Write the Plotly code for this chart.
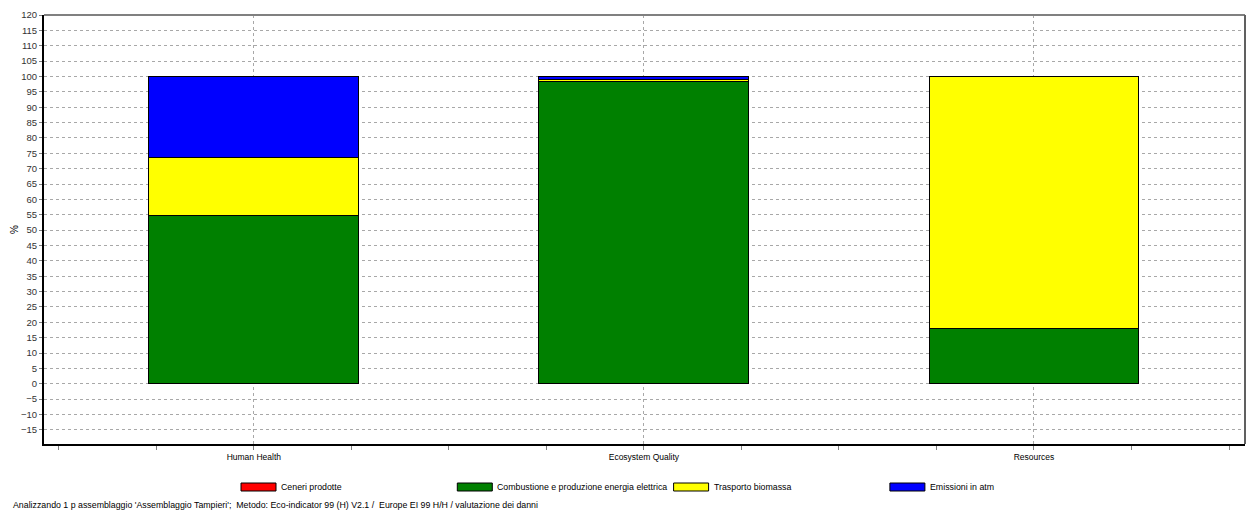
import plotly.graph_objects as go

categories = ["Human Health", "Ecosystem Quality", "Resources"]
series_names = [
    "Ceneri prodotte",
    "Combustione e produzione energia elettrica",
    "Trasporto biomassa",
    "Emissioni in atm",
]
ceneri = [0.2, 0.1, 0.05]
combustione = [54.6, 98.3, 17.9]
trasporto = [18.7, 0.5, 81.95]
emissioni = [26.5, 1.1, 0.1]
series_values = [ceneri, combustione, trasporto, emissioni]
series_colors = ["#ff0000", "#008000", "#ffff00", "#0000ff"]
y_ticks = list(range(-15, 125, 5))
footer = ("Analizzando 1 p assemblaggio 'Assemblaggio Tampieri';  Metodo: Eco-indicator 99 (H) V2.1 /  "
          "Europe EI 99 H/H / valutazione dei danni")

FONT = "Liberation Sans, Arial, sans-serif"
xpos = list(range(len(categories)))

fig = go.Figure()
for name, vals, col in zip(series_names, series_values, series_colors):
    fig.add_trace(go.Bar(
        x=xpos, y=vals, name=name, width=0.538,
        marker=dict(color=col, line=dict(color="#000000", width=1)),
        showlegend=False,
    ))

fig.update_layout(
    barmode="stack",
    width=1250, height=510,
    margin=dict(l=44, r=5, t=15, b=66),
    plot_bgcolor="#ffffff", paper_bgcolor="#ffffff",
    font=dict(family=FONT, size=9, color="#000000"),
    xaxis=dict(
        range=[-0.538, 2.541],
        tickvals=xpos, ticktext=categories,
        showgrid=True, gridcolor="#a8a8a8", griddash="3px,3px", gridwidth=1,
        ticks="outside", ticklen=4, tickcolor="#808080",
        minor=dict(dtick=0.25, tick0=-0.5, ticks="outside", ticklen=4, tickcolor="#808080", showgrid=False),
        showline=True, linecolor="#000000", linewidth=2,
        zeroline=False, tickfont=dict(size=8.5),
    ),
    yaxis=dict(
        range=[-19.6, 120],
        tickvals=y_ticks,
        showgrid=True, gridcolor="#a8a8a8", griddash="3px,3px", gridwidth=1,
        ticks="outside", ticklen=3, tickcolor="#808080",
        showline=True, linecolor="#000000", linewidth=2,
        zeroline=False, tickfont=dict(size=9.5, color="#333333"),
        title=dict(text="%", standoff=0, font=dict(size=10)),
    ),
)

# top and right frame edges
fig.add_shape(type="line", xref="paper", yref="paper", x0=0, x1=1, y0=1, y1=1,
              line=dict(color="#808080", width=2))
fig.add_shape(type="line", xref="paper", yref="paper", x0=1, x1=1, y0=0, y1=1,
              line=dict(color="#606060", width=2))

# legend row with wide swatches
W, H = 1250, 510
for i, (name, col) in enumerate(zip(series_names, series_colors)):
    x0 = 241 + i * 216.3
    fig.add_shape(type="rect", xref="paper", yref="paper",
                  x0=(x0 - 44) / (W - 49), x1=(x0 + 35 - 44) / (W - 49),
                  y0=-(491 - 444) / (H - 81), y1=-(483 - 444) / (H - 81),
                  line=dict(color="#000000", width=1), fillcolor=col)
    fig.add_annotation(text=name, xref="paper", yref="paper",
                       x=(x0 + 38 - 44) / (W - 49), y=-(487 - 444) / (H - 81),
                       xanchor="left", yanchor="middle", showarrow=False,
                       font=dict(size=8.8, family=FONT))

fig.add_annotation(text=footer, xref="paper", yref="paper",
                   x=(11 - 44) / (W - 49), y=-(505 - 444) / (H - 81),
                   xanchor="left", yanchor="middle", showarrow=False,
                   font=dict(size=8.8, family=FONT))

fig.write_html("out.html")
